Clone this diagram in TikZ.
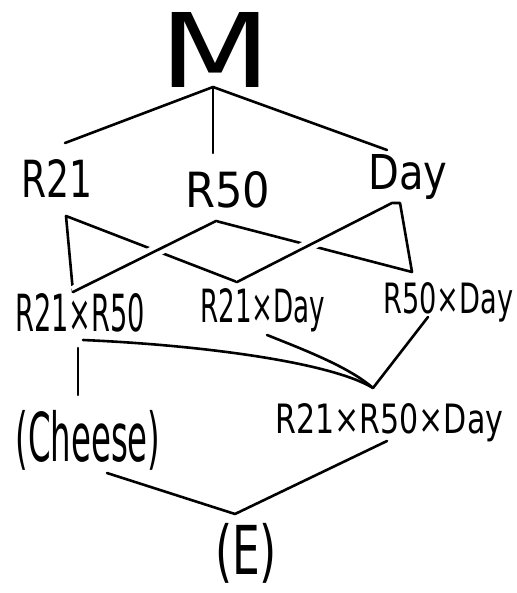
\documentclass[tikz,border=0pt]{standalone}
\usepackage{fontspec}
\setmainfont{DejaVu Sans}
\usepackage{graphicx}
\begin{document}
\begin{tikzpicture}[x=1pt,y=-1pt,
  edge/.style={line width=2.6pt, line cap=round, line join=round},
  hop/.style={preaction={draw=white, line width=12pt, line cap=butt}},
  lbl/.style={inner sep=0pt, anchor=base west}]
\useasboundingbox (0,0) rectangle (516,593);
% labels
\node[inner sep=0pt, anchor=center] (M) at (216,50) {\resizebox*{112pt}{75pt}{M}};
\node[lbl] (R21) at (21,198) {\resizebox{71pt}{38pt}{R21}};
\node[lbl] (R50) at (185,208) {\resizebox{85pt}{36pt}{R50}};
\node[lbl] (Day) at (368,190) {\resizebox{79pt}{35pt}{Day}};
\node[lbl] (R21R50) at (15,331) {\resizebox{130pt}{38pt}{R21×R50}};
\node[lbl] (R21Day) at (200,322) {\resizebox{125pt}{34pt}{R21×Day}};
\node[lbl] (R50Day) at (383,313) {\resizebox{130pt}{31pt}{R50×Day}};
\node[lbl] (R21R50Day) at (275,433) {\resizebox{228pt}{30pt}{R21×R50×Day}};
\node[inner sep=0pt, anchor=center] (Cheese) at (88,440) {\resizebox*{145pt}{60pt}{(Cheese)}};
\node[inner sep=0pt, anchor=center] (E) at (246,553) {\resizebox*{62pt}{60pt}{(E)}};
% connection points
\coordinate (Mb) at (213,87);
\coordinate (R21t) at (65,143);
\coordinate (R50t) at (213,153);
\coordinate (Dayt) at (387,150);
\coordinate (R21b) at (66,216);
\coordinate (R50b) at (216,221);
\coordinate (Dayb1) at (392,203);
\coordinate (Dayb2) at (400,203);
\coordinate (A1) at (73,292);
\coordinate (A2) at (237,282);
\coordinate (A3) at (412,272);
\coordinate (B1) at (83,340);
\coordinate (B2) at (267,335);
\coordinate (B3) at (428,317);
\coordinate (J) at (373,388);
\coordinate (C1) at (78,348);
\coordinate (C2) at (78,395);
\coordinate (Ch) at (107,473);
\coordinate (T3) at (387,441);
\coordinate (Et) at (235,514);
% edges top
\draw[edge] (R21t) -- (Mb) -- (Dayt);
\draw[edge] (Mb) -- (R50t);
% edges middle (down-right first, then crossing ones with hop)
\draw[edge] (R21b) -- (A2);
\draw[edge] (R50b) -- (A3) -- (Dayb2) -- (Dayb1);
\draw[edge] (R21b) -- (A1);
\draw[edge,hop] (A1) -- (R50b);
\draw[edge,hop] (A2) -- (Dayb1);
% edges lower
\draw[edge] (B1) .. controls (200,345) and (330,362) .. (J);
\draw[edge] (B2) .. controls (310,352) and (350,368) .. (J);
\draw[edge] (B3) -- (J);
\draw[edge] (C1) -- (C2);
\draw[edge] (Ch) -- (Et) -- (T3);
\end{tikzpicture}
\end{document}
